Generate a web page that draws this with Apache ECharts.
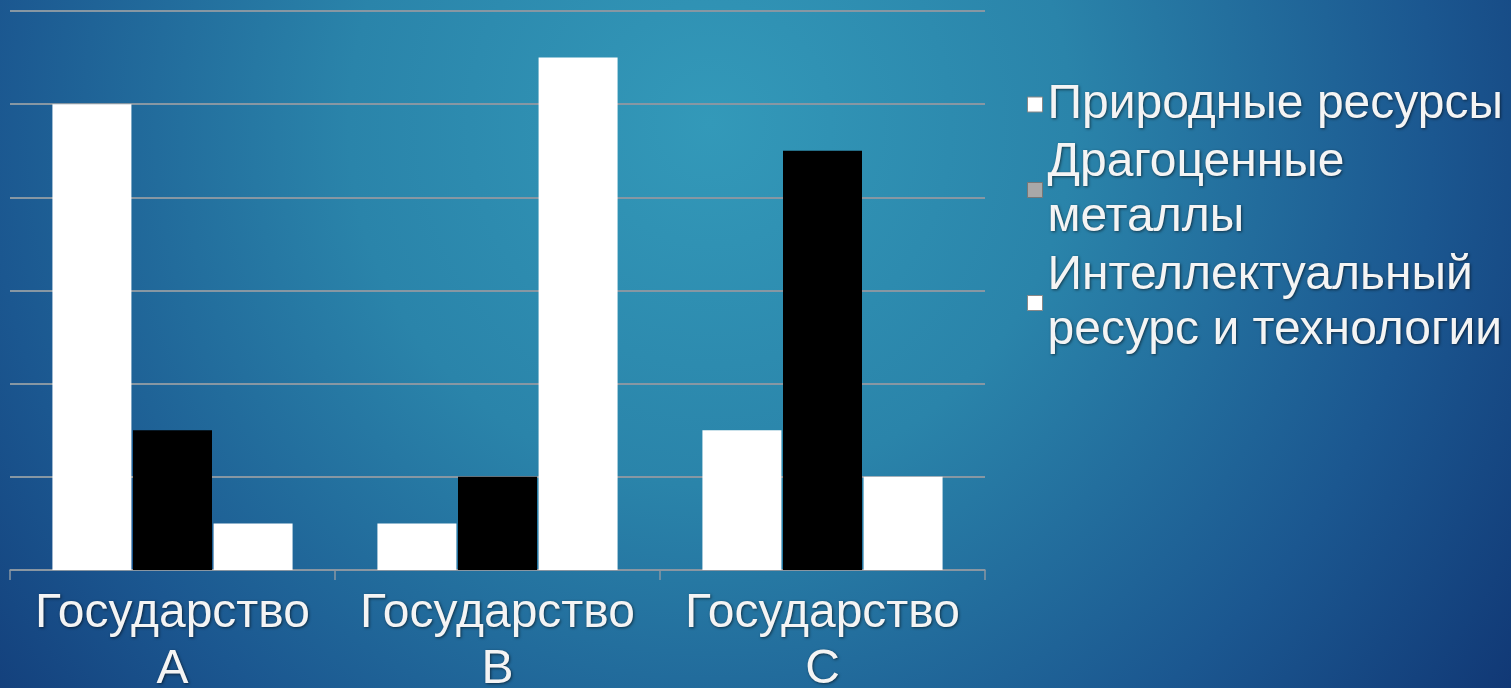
<!DOCTYPE html>
<html>
<head>
<meta charset="utf-8">
<script src="https://cdn.jsdelivr.net/npm/echarts@6/dist/echarts.min.js"></script>
<style>
html,body{margin:0;padding:0;width:100%;height:100%;overflow:hidden;}
#chart{width:1511px;height:688px;}
</style>
</head>
<body>
<div id="chart"></div>
<script>
const categories = ['Государство\nA', 'Государство\nB', 'Государство\nC'];
const seriesNames = ['Природные ресурсы', 'Драгоценные\nметаллы', 'Интеллектуальный\nресурс и технологии'];
const naturalResources = [5, 0.5, 1.5];
const preciousMetals = [1.5, 1, 4.5];
const intellectual = [0.5, 5.5, 1];

const chart = echarts.init(document.getElementById('chart'));
const textShadow = {textShadowColor: 'rgba(0,0,0,0.55)', textShadowBlur: 3, textShadowOffsetX: 1, textShadowOffsetY: 1};
chart.setOption({
  backgroundColor: new echarts.graphic.RadialGradient(0.47, 0.18, 1.5, [
    {offset: 0, color: '#3399b9'},
    {offset: 0.35, color: '#2a84aa'},
    {offset: 0.7, color: '#1b5790'},
    {offset: 1, color: '#0f3270'}
  ]),
  animation: false,
  grid: {left: 10, width: 975, top: 11, height: 559, containLabel: false, outerBoundsMode: 'none'},
  legend: {
    orient: 'vertical',
    left: 1022,
    top: 72,
    itemGap: 3,
    itemWidth: 15,
    itemHeight: 15,
    icon: 'rect',
    textStyle: Object.assign({color: '#f4f4f4', fontSize: 48, lineHeight: 55, fontFamily: 'Liberation Sans, Arial, sans-serif'}, textShadow),
    data: [
      {name: seriesNames[0], itemStyle: {color: '#ffffff', borderColor: '#888', borderWidth: 1}},
      {name: seriesNames[1], itemStyle: {color: '#a8a8a8', borderColor: '#777', borderWidth: 1}},
      {name: seriesNames[2], itemStyle: {color: '#ffffff', borderColor: '#888', borderWidth: 1}}
    ]
  },
  xAxis: {
    type: 'category',
    data: categories,
    axisLine: {lineStyle: {color: '#8b96a2', width: 1.5}},
    axisTick: {show: true, length: 10, lineStyle: {color: '#8b96a2', width: 1.5}},
    axisLabel: Object.assign({color: '#f4f4f4', fontSize: 48, lineHeight: 56, margin: 16, fontFamily: 'Liberation Sans, Arial, sans-serif', interval: 0}, textShadow)
  },
  yAxis: {
    type: 'value',
    min: 0,
    max: 6,
    interval: 1,
    axisLabel: {show: false},
    axisLine: {show: false},
    axisTick: {show: false},
    splitLine: {lineStyle: {color: '#8797a3', width: 2}}
  },
  series: [
    {name: seriesNames[0], type: 'bar', data: naturalResources, barWidth: 79, barGap: '2%', itemStyle: {color: '#ffffff'}},
    {name: seriesNames[1], type: 'bar', data: preciousMetals, barWidth: 79, barGap: '2%', itemStyle: {color: '#000000'}},
    {name: seriesNames[2], type: 'bar', data: intellectual, barWidth: 79, barGap: '2%', itemStyle: {color: '#ffffff'}}
  ]
});
</script>
</body>
</html>
